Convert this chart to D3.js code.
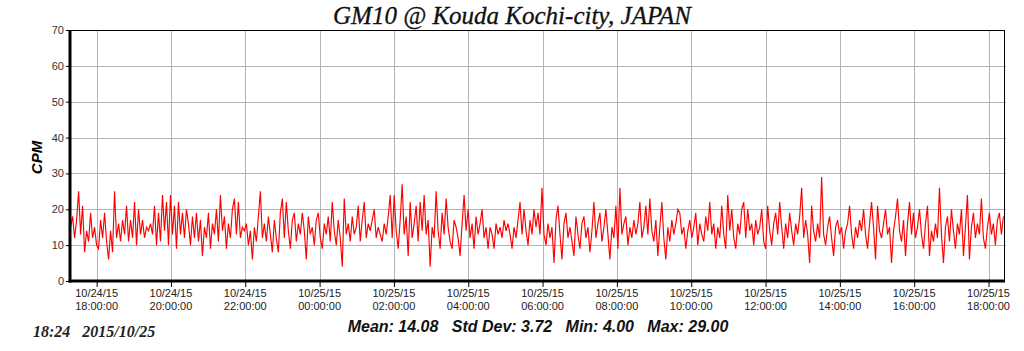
<!DOCTYPE html>
<html lang="en">
<head>
    <title>GM10 @ Kouda Kochi-city</title>
    <meta charset="utf-8">
    <script src="https://d3js.org/d3.v7.min.js"></script>
    <style>
        body { margin: 0; background: #fff; }
    </style>
</head>
<body>
<div id="chart"></div>
<script>
    // Readings (CPM) from left to right
    const cpm = [
        15,18,12,17,25,13,21,8,14,11,19,12,15,10,9,17,12,19,11,6,14,8,25,12,16,11,17,13,21,11,17,12,22,10,20,13,17,12,15,14,16,13,21,10,19,11,24,14,22,10,24,13,21,9,22,13,19,12,20,
        16,10,18,12,19,11,17,7,15,12,19,9,16,13,20,11,24,14,18,9,16,12,20,23,13,22,12,15,14,16,10,14,6,15,11,18,25,12,16,11,18,13,8,17,12,8,19,23,12,22,14,9,17,19,11,16,13,19,14,
        6,18,13,15,10,17,19,12,9,16,13,18,11,22,14,10,17,12,4,23,13,16,11,18,13,15,21,11,17,22,12,16,14,17,20,12,15,13,11,16,13,18,24,12,24,14,9,17,27,13,18,7,22,12,16,21,11,22,14,
        24,13,17,4,15,12,25,14,9,19,13,23,15,11,9,17,15,12,7,16,24,14,20,12,16,9,18,13,16,20,12,15,9,15,13,9,16,13,15,12,17,14,16,13,9,15,12,17,22,13,20,14,10,17,13,20,15,19,13,
        26,13,10,16,12,15,5,17,21,13,6,16,19,12,15,11,7,18,13,9,16,18,12,15,8,14,22,12,16,19,11,15,20,13,6,15,12,21,9,26,13,16,18,10,15,12,17,13,16,22,12,15,21,13,23,14,11,17,7,
        15,22,12,6,15,11,17,13,16,20,19,13,15,9,14,17,12,15,19,10,16,13,11,18,14,22,13,16,9,15,12,21,13,9,24,14,20,12,9,16,13,20,22,12,20,14,16,10,17,13,15,20,11,9,21,14,10,16,19,
        13,22,15,9,16,12,19,14,10,16,13,18,26,12,17,13,5,21,14,11,16,12,29,13,10,15,18,12,7,15,17,13,15,9,14,16,21,13,9,15,12,17,14,20,13,9,16,22,15,6,21,14,12,16,20,13,15,5,14,
        18,23,14,11,17,7,16,22,13,19,12,15,20,13,9,16,21,7,14,11,16,12,26,13,5,15,18,11,20,14,9,16,13,20,7,15,24,6,15,19,12,16,13,23,12,9,15,19,13,16,10,17,19,13,18
    ];
    const firstReading = new Date(2015, 9, 24, 17, 18);
    const lastReading = new Date(2015, 9, 25, 18, 24);
    const xStart = new Date(2015, 9, 24, 17, 17);
    const xEnd = new Date(2015, 9, 25, 18, 25);
    const yTicks = [0, 10, 20, 30, 40, 50, 60, 70];
    const stats = [["Mean", "14.08"], ["Std Dev", "3.72"], ["Min", "4.00"], ["Max", "29.00"]];
    const titleText = "GM10 @ Kouda Kochi-city, JAPAN";
    const stampText = "18:24\u00a0\u00a0\u00a02015/10/25";

    const step = (lastReading - firstReading) / (cpm.length - 1);
    const data = cpm.map((v, i) => ({ t: new Date(+firstReading + i * step), v: v }));

    const W = 1024, H = 351;
    const margin = { top: 30, right: 20, bottom: 70, left: 70 };
    const width = 1004 - margin.left,
        height = 281 - margin.top;

    const svg = d3.select("#chart")
        .append("svg")
        .attr("width", W)
        .attr("height", H)
        .style("display", "block");

    const g = svg.append("g")
        .attr("transform", `translate(${margin.left},${margin.top})`);

    const x = d3.scaleTime().domain([xStart, xEnd]).range([0, width]);
    const y = d3.scaleLinear().domain([0, 70]).range([height, 0]);

    const xTicks = d3.timeHour.every(2).range(new Date(2015, 9, 24, 18), xEnd);

    // Grid
    g.append("g")
        .selectAll("line.h")
        .data(yTicks.filter(d => d > 0 && d < 70))
        .join("line")
        .attr("x1", 0).attr("x2", width + 2)
        .attr("y1", d => Math.round(y(d)) + 0.5).attr("y2", d => Math.round(y(d)) + 0.5)
        .attr("stroke", "#b4b4b4");
    g.append("g")
        .selectAll("line.v")
        .data(xTicks)
        .join("line")
        .attr("x1", d => Math.round(x(d)) + 0.5).attr("x2", d => Math.round(x(d)) + 0.5)
        .attr("y1", 0).attr("y2", height)
        .attr("stroke", "#b4b4b4");

    // Trace
    const line = d3.line()
        .x(d => x(d.t))
        .y(d => y(d.v));
    g.append("path")
        .datum(data)
        .attr("fill", "none")
        .attr("stroke", "#ff0000")
        .attr("stroke-width", 1.15)
        .attr("d", line);

    // Frame
    g.append("line").attr("x1", 0).attr("x2", width).attr("y1", 0.5).attr("y2", 0.5)
        .attr("stroke", "#000");
    g.append("line").attr("x1", width + 0.5).attr("x2", width + 0.5).attr("y1", 0).attr("y2", height)
        .attr("stroke", "#000");

    // Y axis
    const yAxis = g.append("g")
        .call(d3.axisLeft(y).tickValues(yTicks).tickSize(4).tickPadding(2));
    yAxis.select(".domain").remove();
    yAxis.selectAll("text")
        .style("font-family", "Arial, 'Liberation Sans', sans-serif")
        .style("font-size", "11px")
        .attr("fill", "#333");
    g.append("line").attr("x1", 0).attr("x2", 0).attr("y1", 0).attr("y2", height + 1.5)
        .attr("stroke", "#000").attr("stroke-width", 3);

    // X axis
    const xAxis = g.append("g")
        .attr("transform", `translate(0,${height})`)
        .call(d3.axisBottom(x).tickValues(xTicks).tickSize(6).tickFormat(""));
    xAxis.select(".domain").remove();
    g.append("line").attr("x1", -1.5).attr("x2", width + 1).attr("y1", height).attr("y2", height)
        .attr("stroke", "#000").attr("stroke-width", 3);

    const fmtDate = d3.timeFormat("%m/%d/%y"), fmtTime = d3.timeFormat("%H:%M:%S");
    const xl = g.append("g")
        .selectAll("text")
        .data(xTicks)
        .join("text")
        .attr("x", d => x(d))
        .attr("text-anchor", "middle")
        .style("font-family", "Arial, 'Liberation Sans', sans-serif")
        .style("font-size", "11px")
        .attr("fill", "#222");
    xl.append("tspan").attr("x", d => x(d)).attr("y", height + 16).text(fmtDate);
    xl.append("tspan").attr("x", d => x(d)).attr("y", height + 29).text(fmtTime);

    // Y label
    svg.append("text")
        .attr("transform", `translate(42,${margin.top + height / 2 + 2}) rotate(-90)`)
        .attr("text-anchor", "middle")
        .style("font-family", "Arial, 'Liberation Sans', sans-serif")
        .style("font-size", "15px")
        .style("font-weight", "bold")
        .style("font-style", "italic")
        .text("CPM");

    // Title
    svg.append("text")
        .attr("x", 512).attr("y", 24)
        .attr("text-anchor", "middle")
        .style("font-family", "'Times New Roman', 'Liberation Serif', serif")
        .style("font-size", "25px")
        .style("font-style", "italic")
        .attr("fill", "#111")
        .attr("stroke", "#111")
        .attr("stroke-width", 0.3)
        .text(titleText);

    // Stats
    svg.append("text")
        .attr("x", 538).attr("y", 332)
        .attr("text-anchor", "middle")
        .style("font-family", "Arial, 'Liberation Sans', sans-serif")
        .style("font-size", "16px")
        .style("font-weight", "bold")
        .style("font-style", "italic")
        .attr("fill", "#111")
        .text(stats.map(s => `${s[0]}: ${s[1]}`).join("\u00a0\u00a0\u00a0"));

    // Timestamp
    svg.append("text")
        .attr("x", 33).attr("y", 337)
        .style("font-family", "'Times New Roman', 'Liberation Serif', serif")
        .style("font-size", "16px")
        .style("font-weight", "bold")
        .style("font-style", "italic")
        .attr("fill", "#222")
        .text(stampText);
</script>
</body>
</html>
